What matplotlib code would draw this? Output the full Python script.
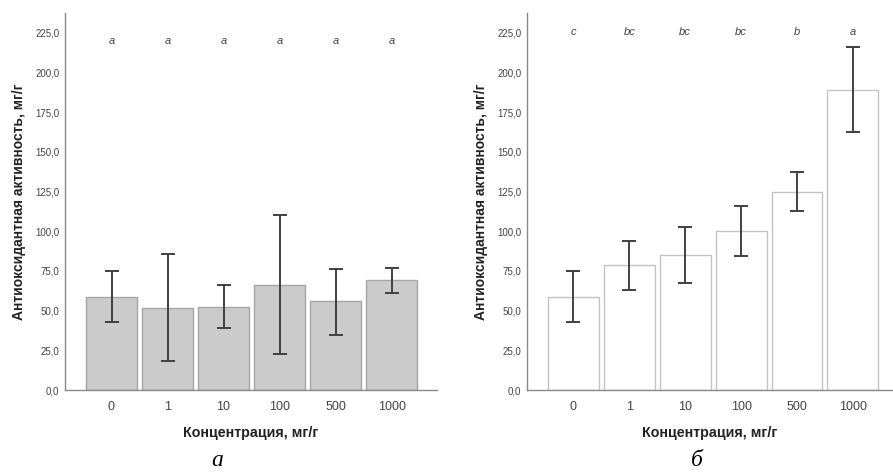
import matplotlib
matplotlib.use("Agg")
import matplotlib.pyplot as plt
import numpy as np

categories = ["0", "1", "10", "100", "500", "1000"]
yticks = [0, 25, 50, 75, 100, 125, 150, 175, 200, 225]

# Panel а
means_a = [58.8, 51.9, 52.5, 66.4, 55.9, 69.1]
upper_a = [75.0, 85.5, 66.0, 110.3, 76.4, 77.1]
lower_a = [42.8, 18.3, 39.3, 22.7, 34.7, 61.3]
letters_a = ["a", "a", "a", "a", "a", "a"]

# Panel б
means_b = [58.8, 78.6, 85.1, 100.4, 124.9, 189.0]
upper_b = [74.8, 94.0, 102.9, 116.1, 137.2, 215.9]
lower_b = [42.8, 63.0, 67.2, 84.2, 112.6, 162.4]
letters_b = ["c", "bc", "bc", "bc", "b", "a"]

ylabel = "Антиоксидантная активность, мг/г"
xlabel = "Концентрация, мг/г"
panel_labels = ["а", "б"]

plt.rcParams['font.family'] = ['Liberation Sans', 'DejaVu Sans']

fig = plt.figure(figsize=(8.93, 4.76), dpi=100)
ax1 = fig.add_axes([65/893, 1-390/476, (437-65)/893, (390-13)/476])
ax2 = fig.add_axes([527/893, 1-390/476, (892-527)/893, (390-13)/476])

def draw(ax, means, upper, lower, letters, face, edge, letter_y, xmax):
    x = np.arange(len(categories))
    m = np.array(means)
    yerr = [m - np.array(lower), np.array(upper) - m]
    ax.bar(x, m, width=0.91, color=face, edgecolor=edge, linewidth=1.0, zorder=2)
    ax.errorbar(x, m, yerr=yerr, fmt='none', ecolor='#404040', elinewidth=1.4,
                capsize=5, capthick=1.4, zorder=3)
    for xi, t in zip(x, letters):
        ax.text(xi, letter_y, t, ha='center', va='center', style='italic',
                fontsize=8, color='#444444')
    ax.set_xlim(-0.83, xmax)
    ax.set_ylim(0, 237.5)
    ax.set_yticks(yticks)
    ax.set_yticklabels([f"{v:.1f}".replace('.', ',') for v in yticks],
                       fontsize=7, color='#444444')
    ax.set_xticks(x)
    ax.set_xticklabels(categories, fontsize=9, color='#444444')
    ax.tick_params(axis='both', length=0)
    ax.tick_params(axis='x', pad=8)
    ax.tick_params(axis='y', pad=4)
    for s in ['top', 'right']:
        ax.spines[s].set_visible(False)
    for s in ['left', 'bottom']:
        ax.spines[s].set_color('#8a8a8a')
        ax.spines[s].set_linewidth(1.0)
    ax.set_xlabel(xlabel, fontsize=10.3, fontweight='bold', color='#222222', labelpad=9)
    ax.set_ylabel(ylabel, fontsize=10, fontweight='bold', color='#222222', labelpad=7)

draw(ax1, means_a, upper_a, lower_a, letters_a, '#cbcbcb', '#a5a5a5', 220, 5.81)
draw(ax2, means_b, upper_b, lower_b, letters_b, 'white', '#c4c4c4', 225.5, 5.70)

fig.text(217/893, 1-460/476, panel_labels[0], ha='center', va='center',
         fontsize=17, style='italic', family=['Liberation Serif', 'DejaVu Serif'])
fig.text(697/893, 1-460/476, panel_labels[1], ha='center', va='center',
         fontsize=17, style='italic', family=['Liberation Serif', 'DejaVu Serif'])

fig.savefig("out.png", dpi=100)
